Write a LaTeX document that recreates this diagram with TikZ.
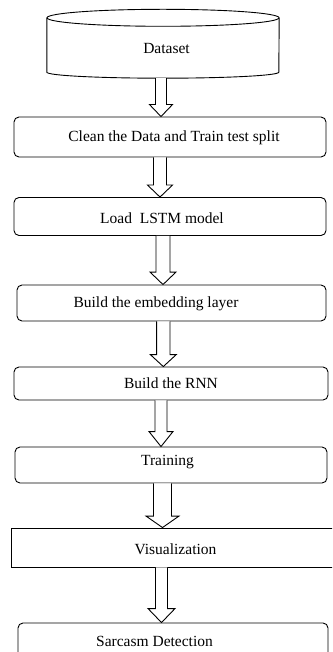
\documentclass[tikz,border=0pt]{standalone}
\usepackage{fontspec}
\setmainfont{Liberation Serif}
\usetikzlibrary{calc}
\tikzset{
  box/.style={draw=black, line width=0.9pt, rounded corners=5pt, inner sep=0pt},
  sqbox/.style={draw=black, line width=0.9pt, inner sep=0pt},
  txt/.style={inner sep=0pt, font=\fontsize{15.5}{18}\selectfont, text=black},
  barrow/.style={draw=black, line width=0.9pt, fill=white, line join=miter}
}
% block arrow: #1 from point, #2 to point, #3 x centre, #4 shaft half, #5 head half, #6 head length
\newcommand{\barr}[6]{%
  \draw[barrow] let \p1=(#1), \p2=(#2) in
    (#3-#4, \y1) -- (#3-#4, \y2+#6) -- (#3-#5, \y2+#6) -- (#3, \y2)
    -- (#3+#5, \y2+#6) -- (#3+#4, \y2+#6) -- (#3+#4, \y1);
}
\begin{document}
\begin{tikzpicture}[x=1pt, y=-1pt]
\useasboundingbox (0,0) rectangle (332,652);
\begin{scope}
\clip (0,0) rectangle (332,652);
% Dataset cylinder
\node[inner sep=0pt, minimum width=232pt, minimum height=54pt] (data) at (163,45) {};
\draw[line width=0.9pt] (data.north west) -- (data.south west)
   arc[start angle=180, end angle=360, x radius=116pt, y radius=6pt]
   -- (data.north east);
\draw[line width=0.9pt, fill=white] (data.north) ellipse [x radius=116pt, y radius=8.5pt];
\coordinate (databot) at ([yshift=-6pt]data.south);
\node[txt] (tdata) at (166.5,49) {Dataset};

\node[box, minimum width=312pt, minimum height=40pt] (clean) at (170,137) {};
\node[txt] (tclean) at (174,138) {Clean the Data and Train test split};

\node[box, minimum width=312pt, minimum height=38pt] (load) at (170,216.5) {};
\node[txt] (tload) at (162,218) {Load\ \ LSTM model};

\node[box, minimum width=309pt, minimum height=36pt] (embed) at (171.5,303) {};
\node[txt] (tembed) at (156,304) {Build the embedding layer};

\node[box, minimum width=314pt, minimum height=33pt] (rnn) at (171,383.5) {};
\node[txt] (trnn) at (171,383) {Build the RNN};

\node[box, minimum width=312pt, minimum height=36pt] (train) at (171,465) {};
\node[txt] (ttrain) at (167.5,462) {Training};

\node[sqbox, minimum width=323pt, minimum height=39pt] (vis) at (172.5,547.5) {};
\node[txt] (tvis) at (175.5,549) {Visualization};

\node[box, minimum width=310pt, minimum height=40pt] (sarc) at (173,643) {};
\node[txt] (tsarc) at (154.5,641) {Sarcasm Detection};

\barr{databot}{clean.north}{161}{5.5}{11.5}{12}
\barr{clean.south}{load.north}{160}{6.5}{12.5}{12}
\barr{load.south}{embed.north}{163}{7}{13}{12.5}
\barr{embed.south}{rnn.north}{163.3}{6.7}{13}{12}
\barr{rnn.south}{train.north}{161}{6}{12}{15}
\barr{train.south}{vis.north}{162.5}{9}{16.5}{11.5}
\barr{vis.south}{sarc.north}{161.5}{6}{13.5}{14}
\end{scope}
\end{tikzpicture}
\end{document}
